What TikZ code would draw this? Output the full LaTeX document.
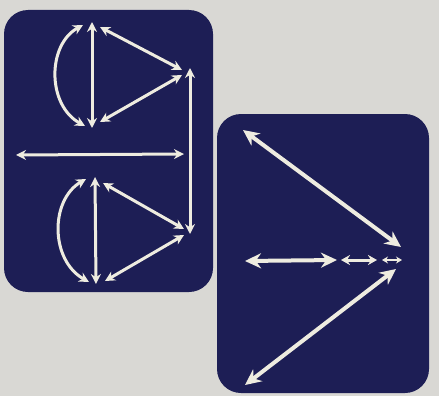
\documentclass[tikz,border=0pt]{standalone}
\usetikzlibrary{arrows.meta}
\definecolor{bgc}{HTML}{D9D8D4}
\definecolor{navy}{HTML}{1D1E55}
\definecolor{cream}{HTML}{EEECE0}
\tikzset{
  panel/.style={fill=navy, rounded corners=24pt},
  arr/.style={draw=cream, line width=3pt, {Stealth[length=10pt,width=10pt]}-{Stealth[length=10pt,width=10pt]}},
  bigarr/.style={draw=cream, line width=4pt, {Stealth[length=16pt,width=15pt]}-{Stealth[length=16pt,width=15pt]}},
  midarr/.style={draw=cream, line width=3pt, {Stealth[length=9pt,width=10pt]}-{Stealth[length=9pt,width=10pt]}},
  smallarr/.style={draw=cream, line width=2pt, {Stealth[length=6pt,width=7pt]}-{Stealth[length=6pt,width=7pt]}}
}
\begin{document}
\begin{tikzpicture}[x=1pt,y=-1pt]
\useasboundingbox (0,0) rectangle (439,396);
\fill[bgc] (0,0) rectangle (439,396);
% panels
\fill[panel] (4,10) rectangle (213,292);
\fill[panel] (217,114) rectangle (429,393);
% left top
\coordinate (a1) at (83,25);
\coordinate (a2) at (85,126);
\coordinate (v1) at (92,22);
\coordinate (v2) at (92,128);
\coordinate (t1) at (100,27);
\coordinate (t2) at (182,70);
\coordinate (t3) at (182,75);
\coordinate (t4) at (100,122);
\draw[arr] (a1) .. controls (47,45) and (47,105) .. (a2);
\draw[arr] (v1) -- (v2);
\draw[arr] (t1) -- (t2);
\draw[arr] (t3) -- (t4);
% right vertical
\coordinate (r1) at (190,68);
\coordinate (r2) at (190,234);
\draw[arr] (r1) -- (r2);
% horizontal
\coordinate (h1) at (16,155);
\coordinate (h2) at (184,154);
\draw[arr] (h1) -- (h2);
% left bottom
\coordinate (b1) at (86,179);
\coordinate (b2) at (89,282);
\coordinate (w1) at (95,177);
\coordinate (w2) at (96,284);
\coordinate (s1) at (103,183);
\coordinate (s2) at (184,229);
\coordinate (s3) at (184,235);
\coordinate (s4) at (105,281);
\draw[arr] (b1) .. controls (50,200) and (50,260) .. (b2);
\draw[arr] (w1) -- (w2);
\draw[arr] (s1) -- (s2);
\draw[arr] (s3) -- (s4);
% right panel
\coordinate (p1) at (243,130);
\coordinate (p2) at (401,247);
\coordinate (q1) at (396,269);
\coordinate (q2) at (245,385);
\draw[bigarr] (p1) -- (p2);
\draw[bigarr] (q1) -- (q2);
\coordinate (k1) at (245,261);
\coordinate (k2) at (337,260);
\coordinate (k3) at (341,260);
\coordinate (k4) at (377,260);
\coordinate (k5) at (382,260);
\coordinate (k6) at (402,260);
\draw[bigarr] (k1) -- (k2);
\draw[midarr] (k3) -- (k4);
\draw[smallarr] (k5) -- (k6);
\end{tikzpicture}
\end{document}
